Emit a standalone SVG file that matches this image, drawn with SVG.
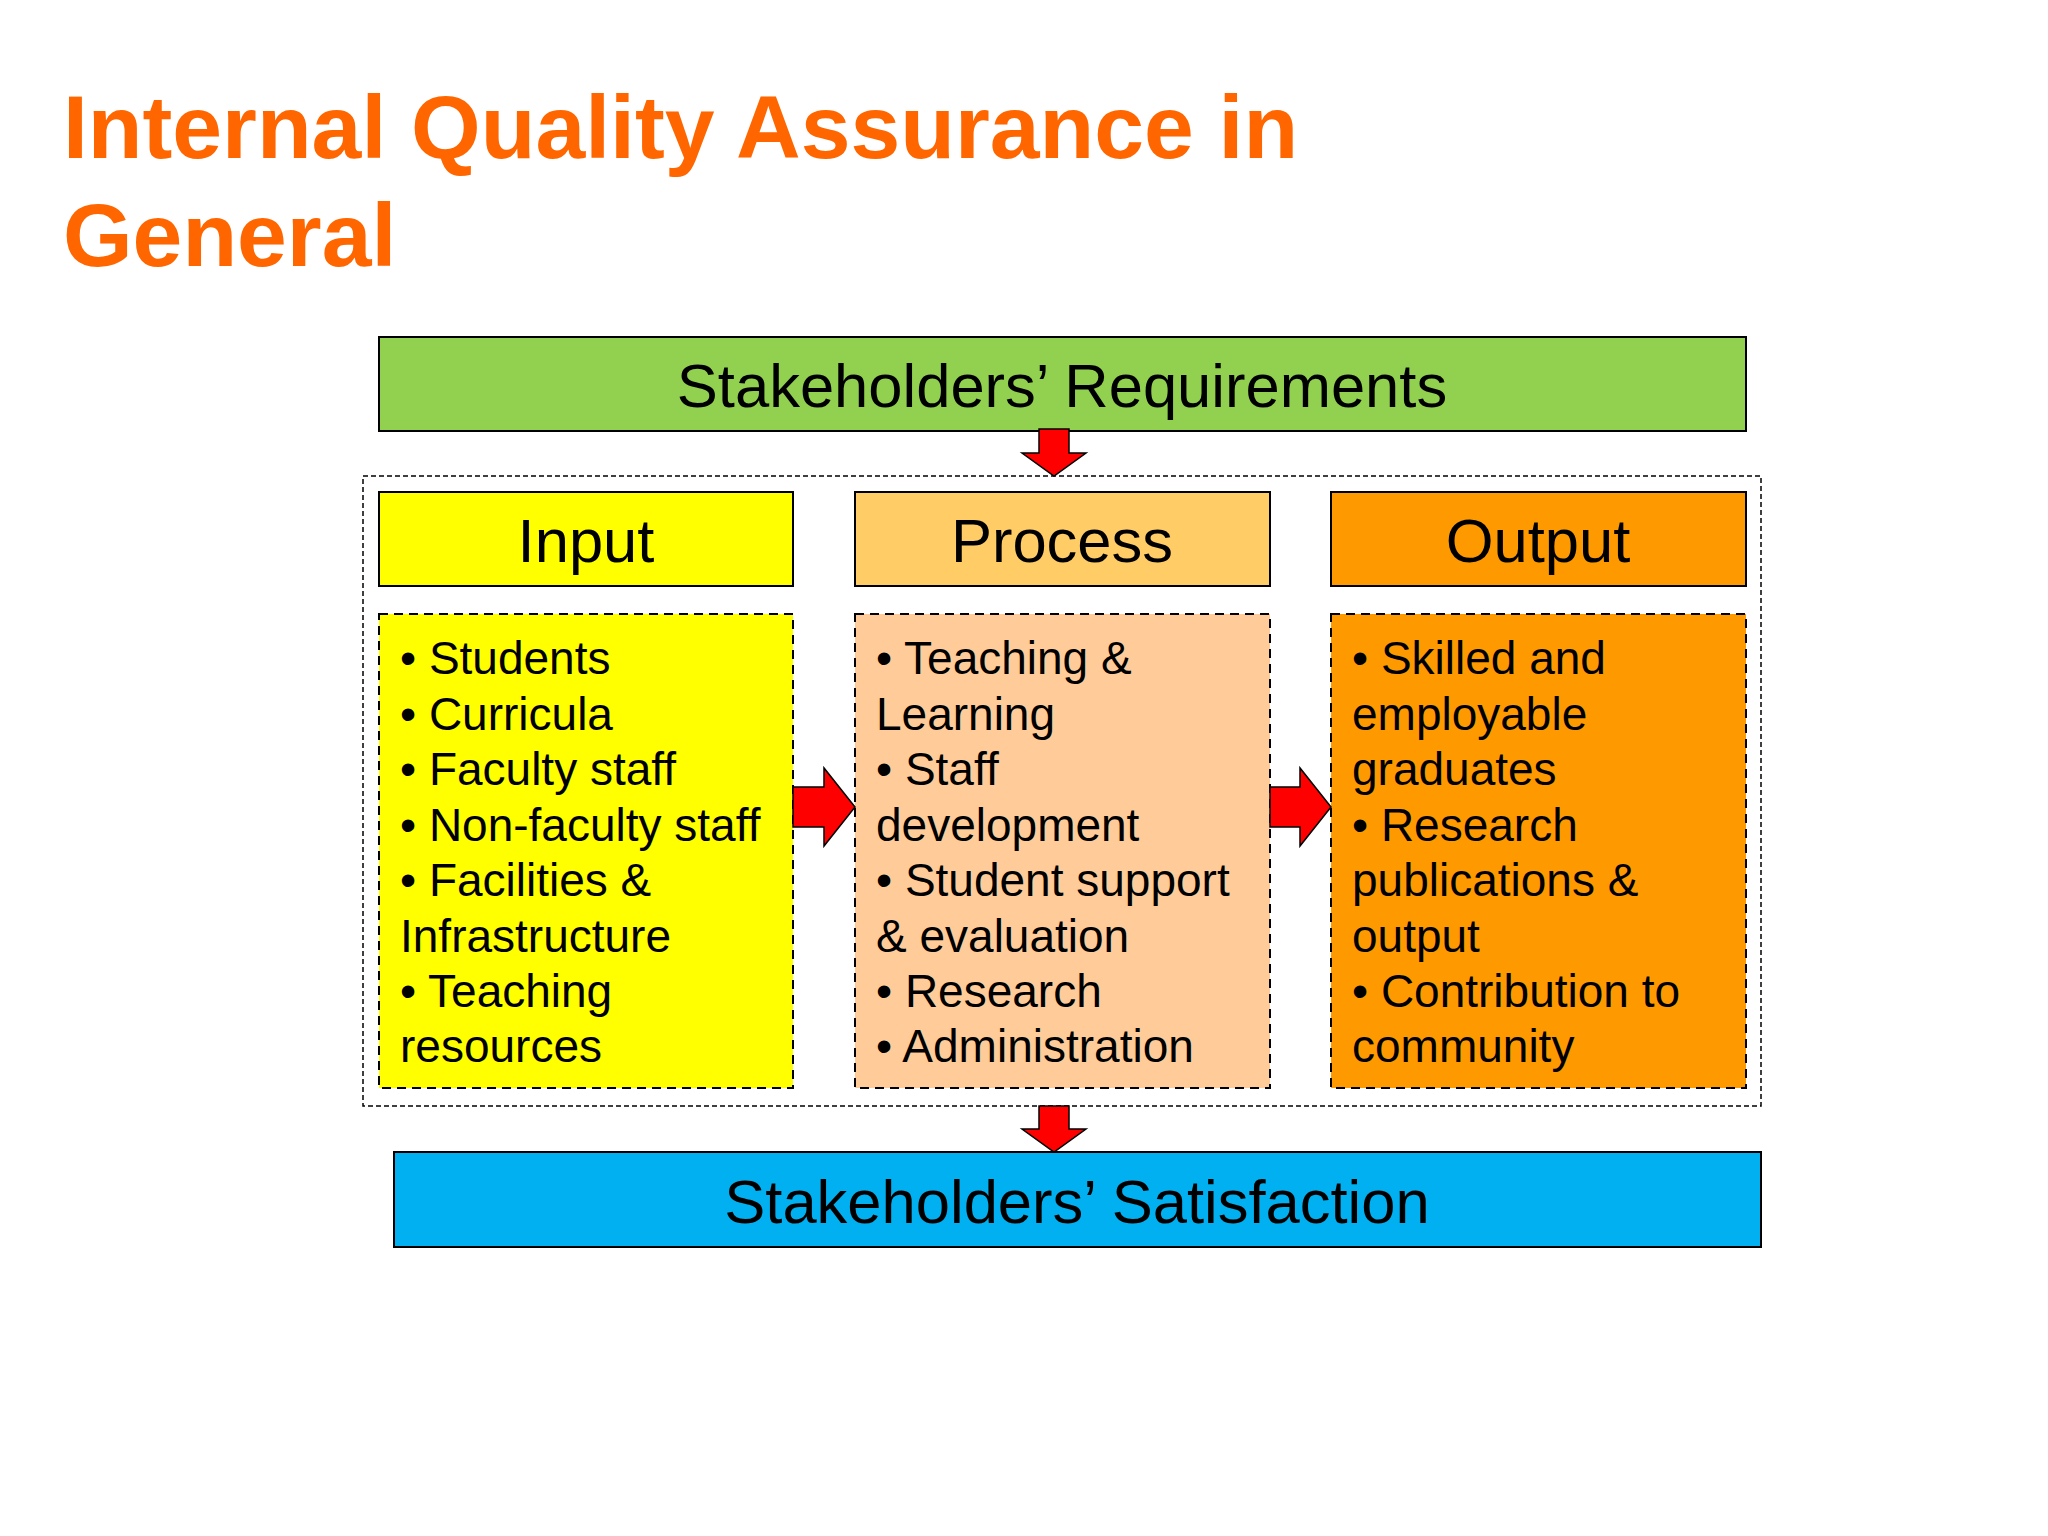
<svg xmlns="http://www.w3.org/2000/svg" width="2048" height="1536" viewBox="0 0 2048 1536">
<style>
.title{font-family:"Liberation Sans",Arial,sans-serif;font-weight:bold;font-size:89.5px;fill:#FF6600}
.hdr{font-family:"Liberation Sans",Arial,sans-serif;font-size:61.5px;fill:#000;text-anchor:middle}
.item{font-family:"Liberation Sans",Arial,sans-serif;font-size:46px;fill:#000}
.solid{stroke:#000;stroke-width:2}
.dash{stroke:#000;stroke-width:2;stroke-dasharray:9 6}
.outer{fill:none;stroke:#000;stroke-width:1.5;stroke-dasharray:5 3}
.arrow{fill:#FF0000;stroke:#000;stroke-width:1.5;stroke-linejoin:miter}
</style>
<rect width="2048" height="1536" fill="#FFFFFF"/>
<g id="title">
<text class="title" x="63" y="158">Internal Quality Assurance in</text>
<text class="title" x="63" y="266">General</text>
</g>
<rect id="frame" class="outer" x="363" y="476" width="1398" height="630"/>
<g id="requirements">
<rect class="solid" x="379" y="337" width="1367" height="94" fill="#92D050"/>
<text class="hdr" x="1062" y="407">Stakeholders’ Requirements</text>
</g>
<g id="input-header">
<rect class="solid" x="379" y="492" width="414" height="94" fill="#FFFF00"/>
<text class="hdr" x="586" y="562">Input</text>
</g>
<g id="process-header">
<rect class="solid" x="855" y="492" width="415" height="94" fill="#FFCC66"/>
<text class="hdr" x="1062" y="562">Process</text>
</g>
<g id="output-header">
<rect class="solid" x="1331" y="492" width="415" height="94" fill="#FF9900"/>
<text class="hdr" x="1538" y="562">Output</text>
</g>
<g id="input-items">
<rect class="dash" x="379" y="614" width="414" height="474" fill="#FFFF00"/>
<text class="item" x="400" y="674">• Students</text>
<text class="item" x="400" y="730">• Curricula</text>
<text class="item" x="400" y="785">• Faculty staff</text>
<text class="item" x="400" y="841">• Non-faculty staff</text>
<text class="item" x="400" y="896">• Facilities &amp;</text>
<text class="item" x="400" y="952">Infrastructure</text>
<text class="item" x="400" y="1007">• Teaching</text>
<text class="item" x="400" y="1062">resources</text>
</g>
<g id="process-items">
<rect class="dash" x="855" y="614" width="415" height="474" fill="#FFCC99"/>
<text class="item" x="876" y="674">• Teaching &amp;</text>
<text class="item" x="876" y="730">Learning</text>
<text class="item" x="876" y="785">• Staff</text>
<text class="item" x="876" y="841">development</text>
<text class="item" x="876" y="896">• Student support</text>
<text class="item" x="876" y="952">&amp; evaluation</text>
<text class="item" x="876" y="1007">• Research</text>
<text class="item" x="876" y="1062">• Administration</text>
</g>
<g id="output-items">
<rect class="dash" x="1331" y="614" width="415" height="474" fill="#FF9900"/>
<text class="item" x="1352" y="674">• Skilled and</text>
<text class="item" x="1352" y="730">employable</text>
<text class="item" x="1352" y="785">graduates</text>
<text class="item" x="1352" y="841">• Research</text>
<text class="item" x="1352" y="896">publications &amp;</text>
<text class="item" x="1352" y="952">output</text>
<text class="item" x="1352" y="1007">• Contribution to</text>
<text class="item" x="1352" y="1062">community</text>
</g>
<g id="satisfaction">
<rect class="solid" x="394" y="1152" width="1367" height="95" fill="#00B0F0"/>
<text class="hdr" x="1077" y="1223">Stakeholders’ Satisfaction</text>
</g>
<g id="connectors">
<polygon class="arrow" points="1039,429 1069,429 1069,453 1086,453 1054,476 1022,453 1039,453"/>
<polygon class="arrow" points="1039,1106 1069,1106 1069,1129 1086,1129 1054,1152 1022,1129 1039,1129"/>
<polygon class="arrow" points="793,787 824,787 824,768 855,807 824,846 824,827 793,827"/>
<polygon class="arrow" points="1270,787 1300,787 1300,768 1331,807 1300,846 1300,827 1270,827"/>
</g>
</svg>
